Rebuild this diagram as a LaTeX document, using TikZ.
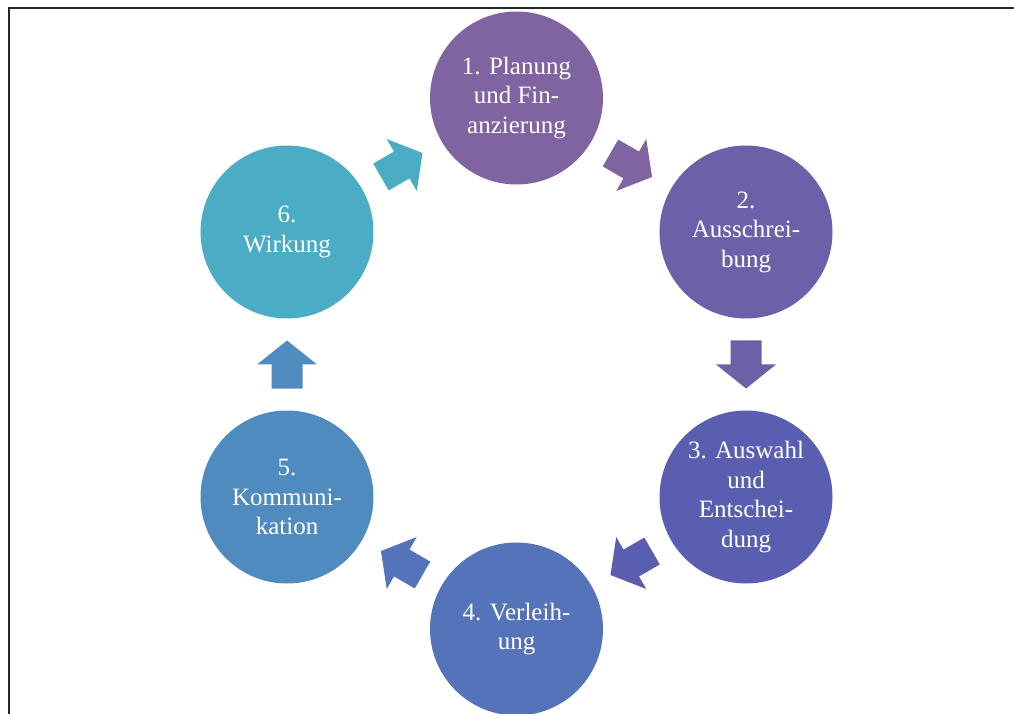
\documentclass[tikz,border=0pt]{standalone}
\usepackage{fontspec}
\setmainfont{Liberation Serif}
\usetikzlibrary{calc}

\definecolor{planfill}{HTML}{8064A2}
\definecolor{ausschrfill}{HTML}{6E5FA9}
\definecolor{auswahlfill}{HTML}{5A5EB0}
\definecolor{verleihfill}{HTML}{5573B8}
\definecolor{kommfill}{HTML}{508BBF}
\definecolor{wirkfill}{HTML}{4BACC6}

\tikzset{
  stage/.style={circle, fill=#1, minimum size=173pt, inner sep=0pt,
    align=center, text=white, font=\fontsize{25}{29.5}\selectfont},
  pics/blockarrow/.style={code={
    \fill[#1] (-24,-15.5) -- (0,-15.5) -- (0,-30) -- (24,0) -- (0,30)
      -- (0,15.5) -- (-24,15.5) -- cycle;}}
}

\begin{document}
\begin{tikzpicture}[x=1pt,y=1pt]
            \useasboundingbox (0,0) rectangle (1014,713);
            % Frame
            \draw[line width=2pt, black!85] (8.5,704.5) rectangle (1040,-30);

            % Define stages
            \node[stage=planfill]    (plan)    at (516.5,615) {1. Planung\\und Fin-\\anzierung};
            \node[stage=ausschrfill] (ausschr) at (746,481)   {2.\\Ausschrei-\\bung};
            \node[stage=auswahlfill] (auswahl) at (746,216)   {3. Auswahl\\und\\Entschei-\\dung};
            \node[stage=verleihfill] (verleih) at (516.5,84)  {4. Verleih-\\ung};
            \node[stage=kommfill]    (komm)    at (287,216)   {5.\\Kommuni-\\kation};
            \node[stage=wirkfill]    (wirk)    at (287,481)   {6.\\Wirkung};

            % Draw arrows
            \pic[rotate=-30]  at ($(plan)!0.5!(ausschr)$)    {blockarrow=planfill};
            \pic[rotate=-90]  at ($(ausschr)!0.5!(auswahl)$) {blockarrow=ausschrfill};
            \pic[rotate=-150] at ($(auswahl)!0.5!(verleih)$) {blockarrow=auswahlfill};
            \pic[rotate=150]  at ($(verleih)!0.5!(komm)$)    {blockarrow=verleihfill};
            \pic[rotate=90]   at ($(komm)!0.5!(wirk)$)       {blockarrow=kommfill};
            \pic[rotate=30]   at ($(wirk)!0.5!(plan)$)       {blockarrow=wirkfill};
        \end{tikzpicture}
\end{document}
